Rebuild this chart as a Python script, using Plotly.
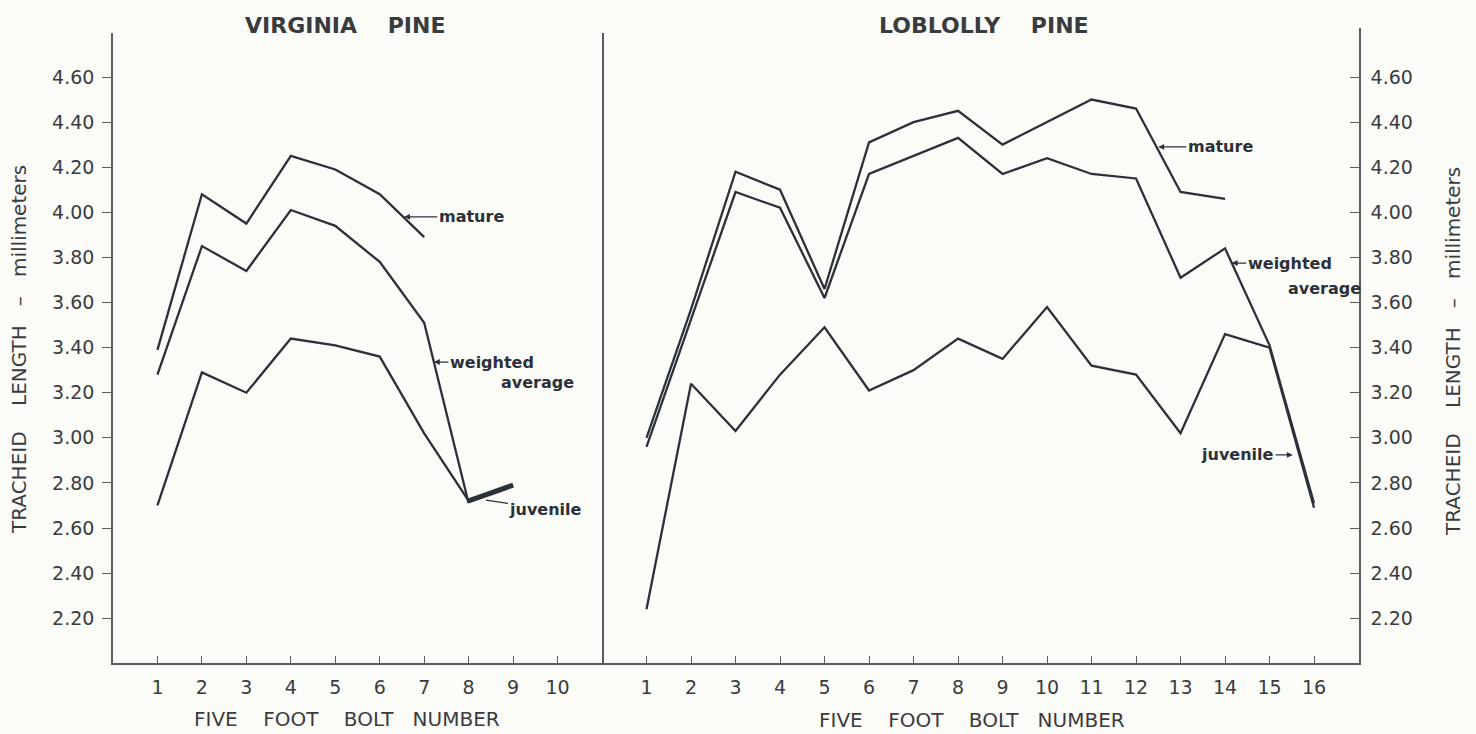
import plotly.graph_objects as go

# Tracheid length (mm) by five-foot bolt number
va_bolts = [1, 2, 3, 4, 5, 6, 7, 8, 9]
va_mature = [3.39, 4.08, 3.95, 4.25, 4.19, 4.08, 3.89]
va_weighted = [3.28, 3.85, 3.74, 4.01, 3.94, 3.78, 3.51, 2.71]
va_juvenile = [2.70, 3.29, 3.20, 3.44, 3.41, 3.36, 3.02, 2.72, 2.79]

lp_bolts = list(range(1, 17))
lp_mature = [3.00, 3.57, 4.18, 4.10, 3.66, 4.31, 4.40, 4.45, 4.30, 4.40, 4.50, 4.46, 4.09, 4.06]
lp_weighted = [2.96, 3.53, 4.09, 4.02, 3.62, 4.17, 4.25, 4.33, 4.17, 4.24, 4.17, 4.15, 3.71, 3.84, 3.41, 2.71]
lp_juvenile = [2.24, 3.24, 3.03, 3.28, 3.49, 3.21, 3.30, 3.44, 3.35, 3.58, 3.32, 3.28, 3.02, 3.46, 3.40, 2.69]

y_ticks = [2.2, 2.4, 2.6, 2.8, 3.0, 3.2, 3.4, 3.6, 3.8, 4.0, 4.2, 4.4, 4.6]
y_ticktext = [f"{v:.2f}" for v in y_ticks]
va_xticks = list(range(1, 11))
lp_xticks = list(range(1, 17))

INK = "#2c3038"
AXIS = "#5a5c60"
TXT = "#3a3b3e"
BG = "#fbfbf8"
FONT = "DejaVu Sans"

W, H = 1476, 734
px = lambda x: x / W
py = lambda y: 1 - y / H

fig = go.Figure()


def add_series(xs, ys, xa, ya, width=2.3):
    fig.add_trace(go.Scatter(x=xs[:len(ys)], y=ys, mode="lines",
                             line=dict(color=INK, width=width),
                             xaxis=xa, yaxis=ya, hoverinfo="skip", showlegend=False))


# Virginia pine
add_series(va_bolts, va_mature, "x", "y")
add_series(va_bolts, va_weighted, "x", "y")
add_series(va_bolts, va_juvenile, "x", "y")
# heavy stub of the juvenile curve beyond bolt 8
add_series(va_bolts[7:9], va_juvenile[7:9], "x", "y", width=5)

# Loblolly pine
add_series(lp_bolts, lp_mature, "x2", "y2")
add_series(lp_bolts, lp_weighted, "x2", "y2")
add_series(lp_bolts, lp_juvenile, "x2", "y2")

tickfont = dict(family=FONT, size=19, color=TXT)

fig.update_layout(
    width=W, height=H,
    margin=dict(l=0, r=0, t=0, b=0),
    paper_bgcolor=BG, plot_bgcolor=BG,
    showlegend=False,
    xaxis=dict(domain=[px(113), px(602)], range=[0, 11],
               tickmode="array", tickvals=va_xticks, ticktext=[str(v) for v in va_xticks],
               ticks="inside", ticklen=8, tickwidth=1.3, tickcolor=AXIS,
               showline=True, linecolor=AXIS, linewidth=1.6,
               showgrid=False, zeroline=False, tickfont=tickfont, anchor="y",
               ticklabelstandoff=6),
    yaxis=dict(domain=[py(663.3), py(33)], range=[2.0, 4.60 + 44 / 225.5],
               tickmode="array", tickvals=y_ticks, ticktext=y_ticktext,
               ticks="outside", ticklen=9, tickwidth=1.3, tickcolor=AXIS,
               showline=True, mirror=True, linecolor=AXIS, linewidth=1.6,
               showgrid=False, zeroline=False, tickfont=tickfont, anchor="x",
               ticklabelstandoff=4),
    xaxis2=dict(domain=[px(602), px(1359)], range=[0, 17.01],
                tickmode="array", tickvals=lp_xticks, ticktext=[str(v) for v in lp_xticks],
                ticks="inside", ticklen=8, tickwidth=1.3, tickcolor=AXIS,
                showline=True, linecolor=AXIS, linewidth=1.6,
                showgrid=False, zeroline=False, tickfont=tickfont, anchor="y2",
                ticklabelstandoff=6),
    yaxis2=dict(domain=[py(663.3), py(28)], range=[2.0, 4.60 + 49 / 225.5],
                side="right", tickmode="array", tickvals=y_ticks, ticktext=y_ticktext,
                ticks="inside", ticklen=9, tickwidth=1.3, tickcolor=AXIS,
                showline=True, linecolor=AXIS, linewidth=1.6,
                showgrid=False, zeroline=False, tickfont=tickfont, anchor="x2",
                ticklabelstandoff=6),
)

lab = dict(family=FONT, size=16, color=INK, weight="bold")
arrow = dict(showarrow=True, arrowhead=2, arrowsize=0.9, arrowwidth=1.3,
             arrowcolor=INK, standoff=0, startstandoff=0)

notes = [
    # Virginia pine curve labels
    dict(x=6.55, y=3.98, xref="x", yref="y", text="mature", ax=67, ay=0, **arrow),
    dict(x=7.22, y=3.336, xref="x", yref="y", text="weighted", ax=58, ay=0, **arrow),
    dict(x=7.22, y=3.336, xref="x", yref="y", text="average", showarrow=False,
         xshift=104, yshift=-20),
    dict(x=8.39, y=2.724, xref="x", yref="y", text="juvenile", ax=60, ay=9,
         **{**arrow, "arrowhead": 0}),
    # Loblolly pine curve labels
    dict(x=12.5, y=4.29, xref="x2", yref="y2", text="mature", ax=62, ay=0, **arrow),
    dict(x=14.15, y=3.775, xref="x2", yref="y2", text="weighted", ax=58, ay=0, **arrow),
    dict(x=14.15, y=3.775, xref="x2", yref="y2", text="average", showarrow=False,
         xshift=93, yshift=-25),
    dict(x=15.52, y=2.924, xref="x2", yref="y2", text="juvenile", ax=-55, ay=0, **arrow),
]
for n in notes:
    fig.add_annotation(font=lab, **n)

NB = "\u00a0"
title_font = dict(family=FONT, size=22, color=TXT, weight="bold")
axis_font = dict(family=FONT, size=20, color=TXT)
xlab_font = dict(family=FONT, size=20, color=TXT)


def paper_text(x, y, text, font, angle=0):
    fig.add_annotation(x=px(x), y=py(y), xref="paper", yref="paper", showarrow=False,
                       xanchor="center", yanchor="middle", text=text, font=font,
                       textangle=angle)


paper_text(345, 25, f"VIRGINIA{NB*4}PINE", title_font)
paper_text(984, 25, f"LOBLOLLY{NB*4}PINE", title_font)
bolt = f"FIVE{NB*4}FOOT{NB*4}BOLT{NB*3}NUMBER"
paper_text(347, 719, bolt, xlab_font)
paper_text(972, 720, bolt, xlab_font)
ytitle = f"TRACHEID{NB*4}LENGTH{NB*3}–{NB*3}millimeters"
paper_text(19, 350, ytitle, axis_font, -90)
paper_text(1453, 352, ytitle, axis_font, -90)

fig.write_html("out.html")
